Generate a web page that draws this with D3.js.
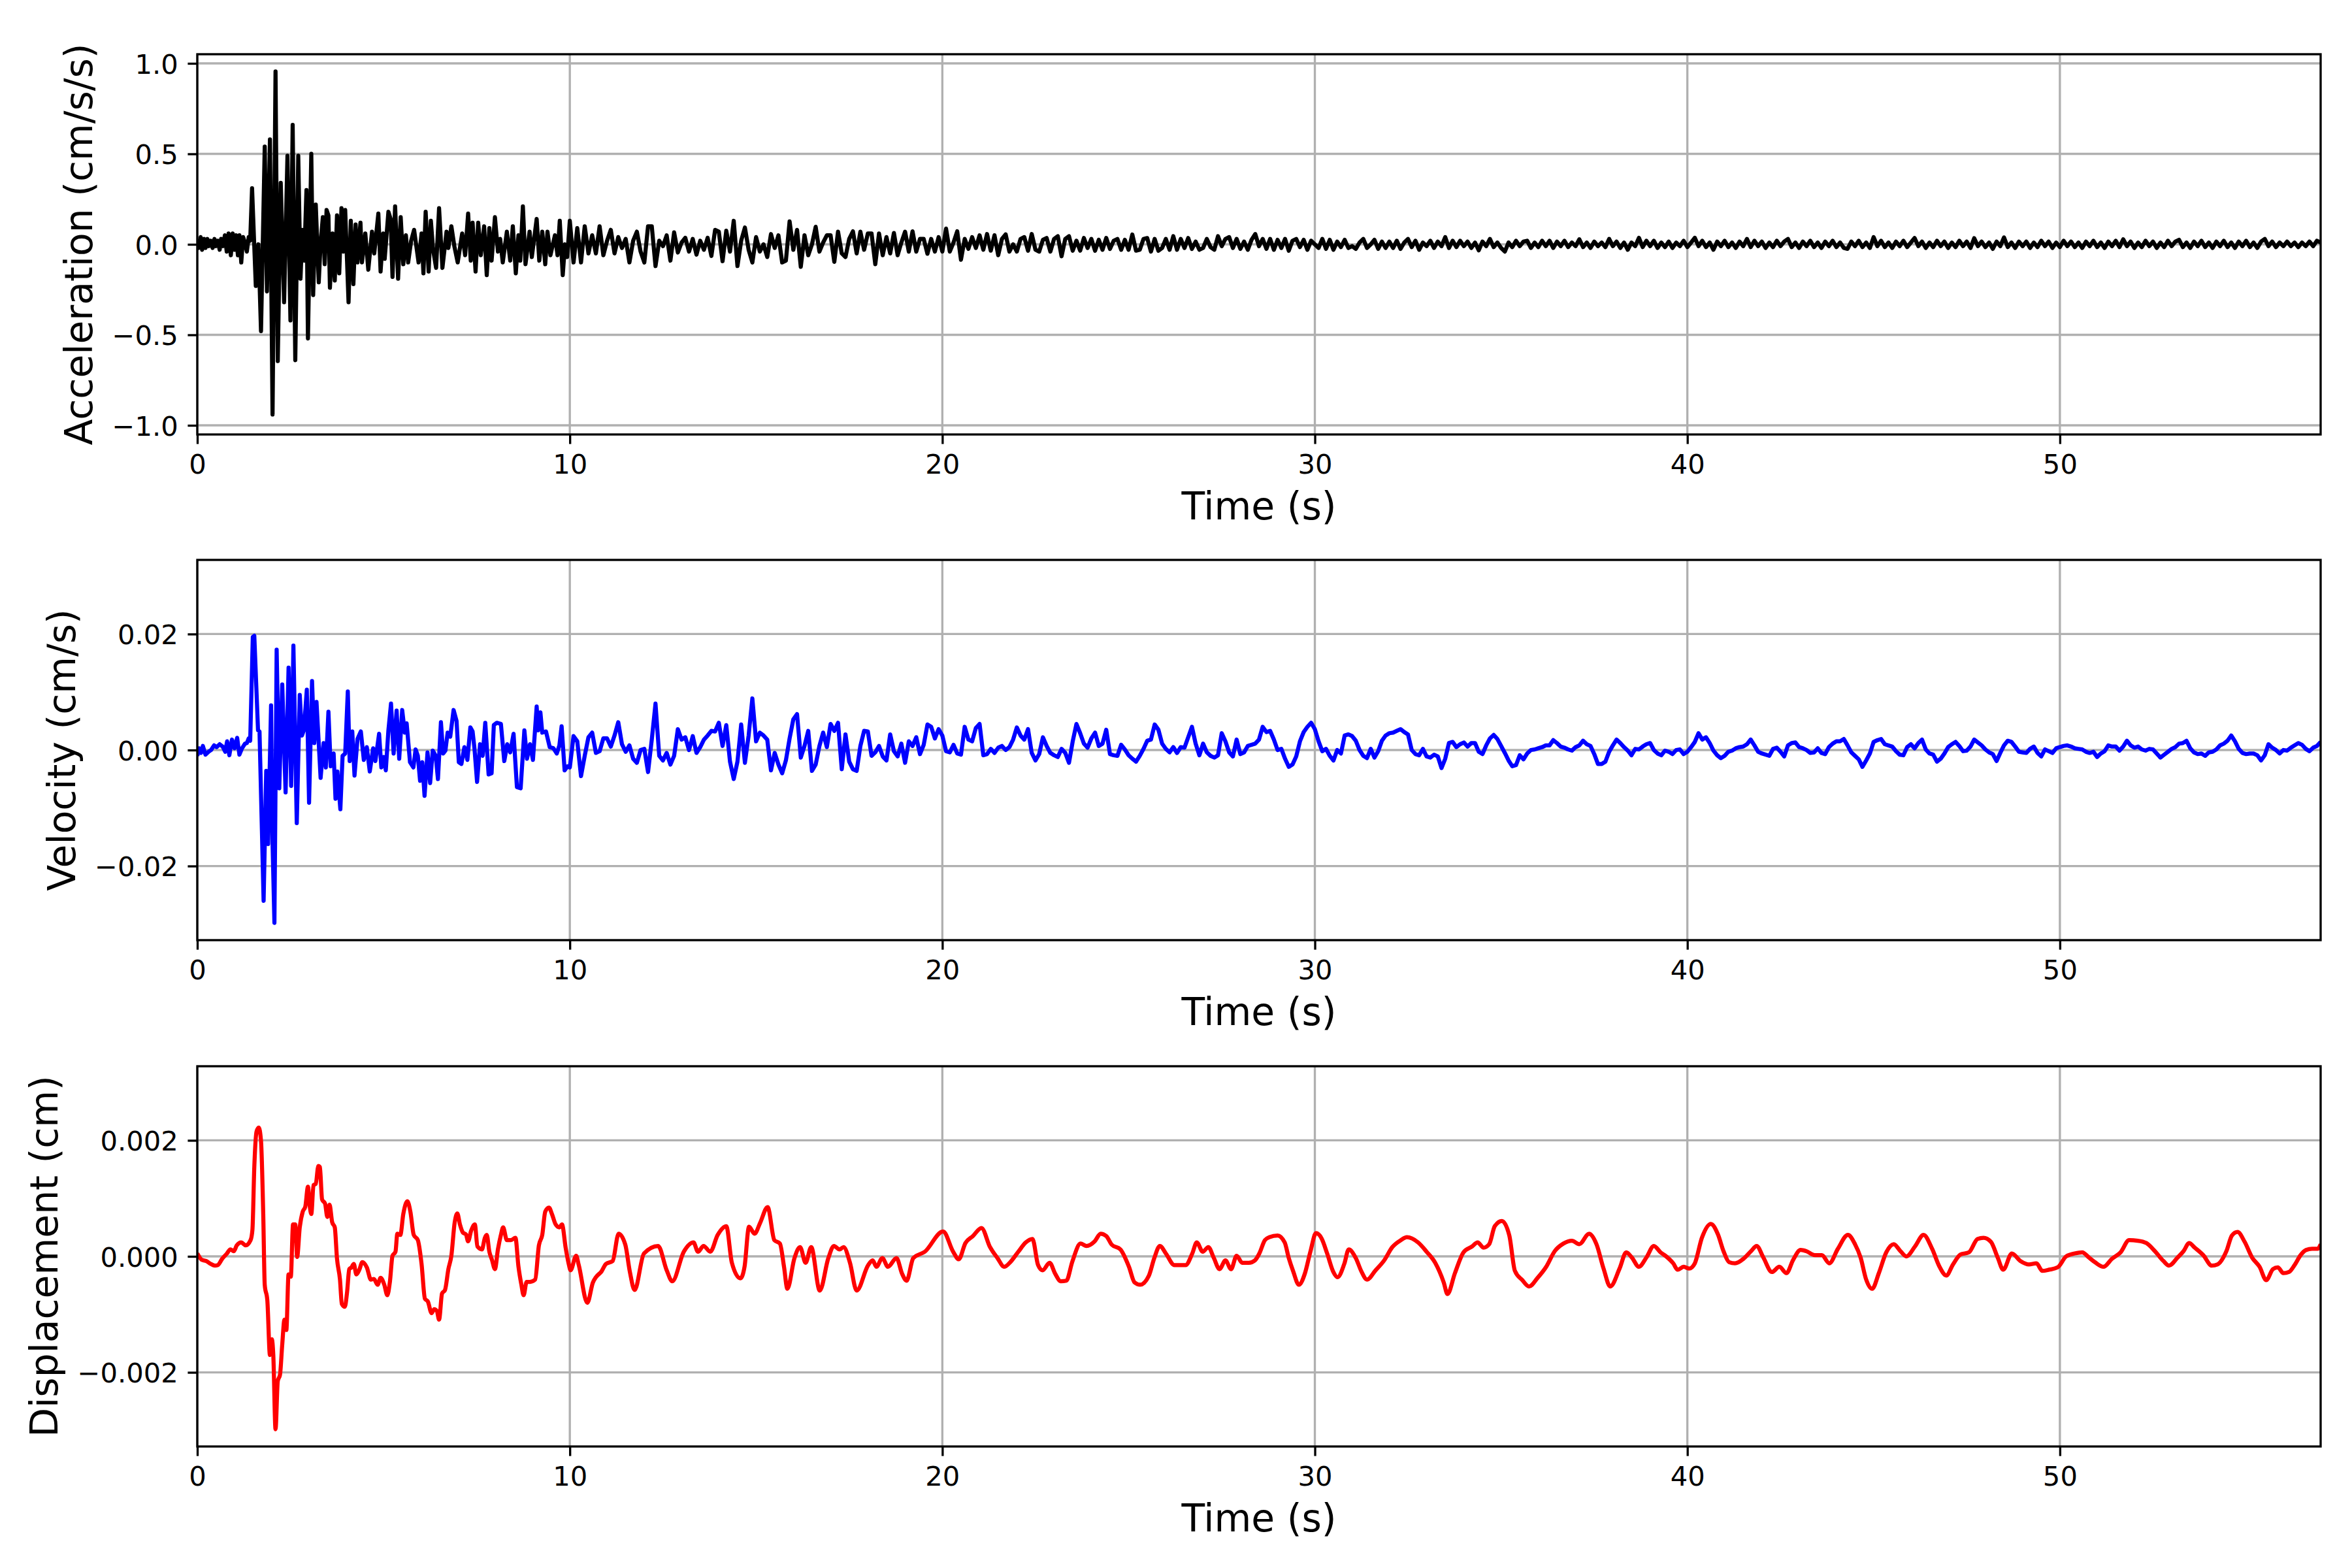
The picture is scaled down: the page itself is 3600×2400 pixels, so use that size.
<!DOCTYPE html>
<html>
<head>
<meta charset="utf-8">
<script src="https://d3js.org/d3.v7.min.js"></script>
<style>
  body { margin: 0; background: #fff; }
  text { font-family: "DejaVu Sans", sans-serif; fill: #000; }
</style>
</head>
<body>
<div id="chart"></div>
<script>
// ---- data ----

// acceleration 0-10 s, peak by peak: [time s, cm/s/s]
const accEarly = [
  [0.00,0.03],[0.04,-0.02],[0.09,0.04],[0.13,-0.03],[0.18,0.03],[0.22,-0.02],[0.27,0.03],[0.31,-0.01],[0.36,0.02],[0.41,-0.02],
  [0.46,0.03],[0.50,-0.01],[0.55,0.02],[0.60,-0.03],[0.64,0.03],[0.69,-0.01],[0.74,0.05],[0.79,-0.04],[0.84,0.06],[0.90,-0.06],
  [0.95,0.06],[1.00,-0.03],[1.04,0.05],[1.09,-0.06],[1.13,0.05],[1.18,-0.10],[1.23,0.04],[1.28,0.01],[1.33,-0.04],[1.38,0.04],
  [1.42,0.02],[1.47,0.31],[1.57,-0.23],[1.64,0.00],[1.71,-0.48],[1.81,0.54],[1.87,-0.26],[1.95,0.58],[2.02,-0.94],[2.10,0.955],
  [2.16,-0.645],[2.24,0.34],[2.33,-0.32],[2.42,0.49],[2.50,-0.42],[2.56,0.66],[2.63,-0.64],[2.71,0.49],[2.77,-0.19],[2.82,0.08],
  [2.87,-0.09],[2.93,0.30],[2.97,-0.52],[3.06,0.50],[3.11,-0.28],[3.18,0.22],[3.26,-0.21],[3.31,0.01],[3.37,0.15],[3.42,-0.11],
  [3.47,0.19],[3.52,0.16],[3.56,-0.24],[3.63,0.06],[3.69,-0.20],[3.75,0.16],[3.81,-0.16],[3.87,0.20],[3.92,-0.04],[3.97,0.19],
  [4.06,-0.32],[4.12,0.13],[4.19,-0.22],[4.25,0.11],[4.30,-0.10],[4.38,0.12],[4.42,-0.10],[4.51,0.06],[4.59,-0.14],[4.69,0.07],
  [4.75,-0.05],[4.86,0.17],[4.92,-0.15],[4.99,0.06],[5.03,-0.08],[5.13,0.18],[5.19,0.14],[5.24,-0.18],[5.31,0.21],[5.39,-0.19],
  [5.46,0.15],[5.53,-0.11],[5.60,0.05],[5.66,-0.10],[5.74,0.02],[5.82,0.08],[5.94,-0.10],[6.02,0.06],[6.07,-0.16],[6.13,0.18],
  [6.21,-0.15],[6.27,0.13],[6.33,-0.03],[6.41,-0.13],[6.49,0.20],[6.58,-0.13],[6.69,0.07],[6.74,-0.02],[6.82,0.10],[6.90,-0.01],
  [6.99,-0.10],[7.11,0.06],[7.19,-0.06],[7.27,0.17],[7.34,-0.09],[7.39,0.12],[7.47,-0.15],[7.54,0.12],[7.61,-0.06],[7.70,0.10],
  [7.77,-0.17],[7.84,0.09],[7.90,-0.09],[7.99,0.15],[8.07,-0.04],[8.13,0.03],[8.20,-0.10],[8.31,0.07],[8.40,-0.09],[8.47,0.10],
  [8.55,-0.16],[8.62,0.05],[8.67,-0.09],[8.74,0.21],[8.81,-0.11],[8.92,0.07],[8.98,-0.07],[9.11,0.14],[9.18,-0.09],[9.26,0.07],
  [9.34,-0.11],[9.40,0.07],[9.48,-0.06],[9.60,0.05],[9.67,-0.06],[9.73,0.13],[9.81,-0.17],[9.87,0.00],[9.93,-0.07]
];

// acceleration 10-57 s, one reading every 0.1 s (cm/s/s)
const accLateStart = 10, accLateStep = 0.1;
const accLate = [
  0.13,-0.10,0.09,-0.10,0.10,-0.05,0.05,-0.05,0.10,-0.06,
  0.02,0.08,-0.05,0.04,-0.02,0.03,-0.10,0.02,0.07,-0.04,
  -0.10,0.10,0.10,-0.12,0.02,-0.01,0.05,-0.09,0.066,-0.045,
  0.01,0.036,-0.04,0.03,-0.057,0.02,-0.03,0.036,-0.064,0.08,
  0.07,-0.093,0.075,-0.04,0.13,-0.12,0.02,0.093,-0.03,-0.10,
  0.04,-0.04,0.0,-0.07,0.057,-0.02,0.05,-0.10,-0.09,0.127,
  -0.03,0.08,-0.124,0.05,-0.06,0.0,0.097,-0.04,0.01,0.05,
  0.05,-0.097,0.07,-0.05,-0.07,0.03,0.072,-0.05,0.07,-0.03,
  0.06,0.06,-0.11,0.06,-0.06,0.04,-0.05,0.063,-0.06,0.01,
  0.07,-0.04,0.072,-0.04,0.03,0.03,-0.052,0.03,-0.04,0.04,
  -0.04,0.087,-0.04,0.01,0.072,-0.085,0.03,-0.025,0.04,-0.02,
  0.05,-0.03,0.057,-0.035,0.05,-0.06,0.03,0.055,-0.04,0.0,
  -0.04,0.03,0.04,-0.035,0.057,-0.03,-0.04,0.025,0.035,-0.04,
  0.03,0.045,-0.066,0.03,0.045,-0.035,0.02,-0.035,0.035,-0.02,
  0.03,-0.035,0.025,-0.03,0.035,-0.025,0.02,0.03,-0.03,0.025,
  -0.03,0.054,-0.035,-0.03,0.03,0.035,-0.04,0.03,-0.035,-0.02,
  0.03,-0.03,0.045,-0.03,0.03,-0.02,0.035,-0.025,0.015,-0.03,
  -0.02,0.03,-0.015,-0.03,0.045,-0.01,0.03,0.04,-0.02,0.03,
  -0.025,0.015,-0.03,0.025,0.057,-0.01,0.03,-0.025,0.03,-0.03,
  0.025,-0.02,0.03,-0.035,0.02,0.03,-0.015,0.025,-0.03,0.02,
  0.0,-0.02,0.03,-0.025,0.025,-0.03,0.015,-0.015,0.025,-0.02,
  -0.01,-0.025,0.01,0.03,-0.02,0.0,0.025,-0.025,0.015,-0.02,
  0.015,-0.02,0.02,-0.025,0.01,0.03,-0.015,0.02,-0.03,0.01,
  -0.01,0.02,-0.02,0.015,-0.01,0.04,-0.02,0.02,-0.015,0.02,
  -0.01,0.015,-0.02,0.01,-0.033,0.015,-0.01,0.03,-0.015,0.01,
  -0.02,-0.04,0.01,-0.015,0.02,-0.01,0.015,0.02,-0.02,0.01,
  -0.015,0.02,-0.01,0.02,-0.02,0.015,-0.01,0.02,-0.015,0.01,
  -0.01,0.028,-0.015,0.01,-0.02,0.015,-0.01,0.01,-0.015,0.03,
  -0.01,0.015,-0.02,0.01,-0.03,0.01,-0.01,0.036,-0.015,0.02,
  -0.01,0.02,-0.02,0.01,-0.015,0.015,-0.02,0.01,-0.01,0.02,
  -0.015,0.01,0.036,-0.01,0.02,-0.015,0.01,-0.03,0.015,-0.01,
  0.02,-0.015,0.01,-0.02,0.015,-0.01,0.03,-0.015,0.02,-0.01,
  0.015,-0.02,0.01,-0.015,0.02,-0.01,0.015,0.03,-0.015,0.01,
  -0.02,0.015,-0.01,0.02,-0.015,0.01,-0.02,0.015,-0.01,0.02,
  -0.015,0.01,-0.02,-0.025,0.015,-0.01,0.02,-0.015,0.01,-0.02,
  0.04,-0.01,0.02,-0.015,0.01,-0.02,0.015,-0.01,0.02,-0.015,
  0.01,0.035,-0.01,0.015,-0.02,0.01,-0.015,0.02,-0.01,0.015,
  -0.02,0.01,-0.015,0.02,-0.01,0.015,-0.02,0.034,-0.01,0.015,
  -0.015,0.01,-0.025,0.015,-0.01,0.038,-0.015,0.01,-0.02,0.015,
  -0.01,0.015,-0.02,0.01,-0.015,0.02,-0.01,0.015,-0.02,0.01,
  -0.015,0.02,-0.01,0.015,-0.015,0.01,-0.02,0.015,-0.01,0.02,
  -0.015,0.01,-0.02,0.015,-0.01,0.02,-0.015,0.028,-0.01,0.015,
  -0.02,0.01,-0.015,0.02,-0.01,0.015,-0.02,0.01,-0.015,0.02,
  -0.01,0.015,0.025,-0.015,0.01,-0.02,0.015,-0.01,0.02,-0.015,
  0.01,-0.02,0.015,-0.01,0.02,-0.015,0.01,-0.02,0.015,-0.01,
  0.02,-0.015,0.01,-0.02,0.015,0.03,-0.01,0.015,-0.015,0.01,
  -0.01,0.015,-0.01,0.01,-0.015,0.01,-0.01,0.015,-0.01,0.02,
  0.01
];

// velocity 0-10 s: [time s, velocity in 0.001 cm/s]
const velEarly = [
  [0.00,-1.0],[0.05,0.3],[0.10,-0.5],[0.15,0.7],[0.22,-0.8],[0.30,-0.3],[0.37,0.0],[0.45,0.8],[0.52,0.5],[0.60,1.0],
  [0.68,0.6],[0.75,-0.3],[0.80,1.5],[0.86,-0.9],[0.93,1.8],[1.00,0.3],[1.07,2.1],[1.13,-0.8],[1.20,0.3],[1.28,1.1],
  [1.33,1.2],[1.38,2.0],[1.42,1.6],[1.49,19.5],[1.53,19.7],[1.63,3.4],[1.67,3.2],[1.78,-26.0],[1.85,-3.6],[1.90,-16.2],
  [1.98,7.7],[2.02,-16.0],[2.07,-29.8],[2.13,17.3],[2.20,-6.6],[2.28,11.3],[2.37,-7.3],[2.45,14.2],[2.52,-6.2],[2.58,18.0],
  [2.67,-12.6],[2.75,9.5],[2.81,2.5],[2.86,3.4],[2.94,10.4],[3.00,-9.1],[3.08,11.9],[3.14,1.2],[3.20,8.3],[3.31,-4.8],
  [3.39,1.2],[3.45,-3.0],[3.52,6.6],[3.58,-2.8],[3.66,-0.6],[3.71,-8.4],[3.76,-3.7],[3.84,-10.2],[3.90,-1.0],[3.97,-0.6],
  [4.04,10.1],[4.09,-1.9],[4.16,3.2],[4.22,-4.4],[4.30,1.9],[4.39,3.2],[4.47,-1.7],[4.55,0.5],[4.63,-3.7],[4.72,0.3],
  [4.78,-1.9],[4.88,2.8],[4.94,-3.0],[5.00,-1.2],[5.06,-3.5],[5.13,3.4],[5.20,8.0],[5.27,-0.6],[5.35,6.8],[5.42,-1.5],
  [5.50,6.9],[5.57,3.0],[5.62,4.6],[5.71,-2.1],[5.80,-3.0],[5.86,0.1],[5.92,-1.0],[5.98,-5.3],[6.04,-2.1],[6.10,-7.9],
  [6.18,-0.4],[6.25,-5.7],[6.32,-0.1],[6.40,-1.0],[6.46,-5.0],[6.54,4.8],[6.60,-0.6],[6.66,-0.1],[6.72,3.0],[6.79,2.3],
  [6.88,6.9],[6.96,5.0],[7.02,-2.1],[7.09,-2.4],[7.17,0.5],[7.25,-1.7],[7.33,3.9],[7.39,3.2],[7.44,0.3],[7.51,-5.5],
  [7.59,1.0],[7.66,-1.0],[7.73,4.7],[7.82,-4.2],[7.90,-4.0],[7.96,4.3],[8.04,4.7],[8.15,4.5],[8.24,-1.9],[8.32,1.0],
  [8.40,-0.4],[8.49,2.8],[8.58,-6.4],[8.68,-6.6],[8.78,3.4],[8.85,-1.5],[8.93,1.0],[9.01,-1.7],[9.11,7.5],[9.15,3.4],
  [9.21,6.5],[9.26,3.0],[9.36,3.2],[9.46,0.5],[9.56,0.3],[9.65,-0.6],[9.72,0.8],[9.78,4.1],[9.86,-3.5],[9.94,-2.8]
];

// velocity 10-57 s, one reading every 0.1 s (0.001 cm/s)
const velLateStart = 10, velLateStep = 0.1;
const velLate = [
  -3.0,2.4,1.5,-4.5,-1.0,2.2,3.0,-0.5,-0.2,2.0,
  2.0,0.6,2.5,4.8,1.0,-0.3,0.8,-1.5,-2.2,0.0,
  0.2,-3.8,1.8,8.0,-1.0,-1.8,-0.5,-2.5,-1.0,3.6,
  1.8,2.2,0.0,2.4,-0.5,0.5,1.8,2.5,3.3,3.2,
  4.7,0.7,4.3,-2.0,-5.0,-2.0,4.4,-2.2,2.5,8.9,
  1.5,3.0,2.5,1.8,-3.5,-0.5,-2.5,-4.0,-1.8,2.0,
  5.3,6.2,-1.3,0.7,3.3,-3.6,-2.5,0.7,3.0,0.5,
  4.5,3.3,4.7,-3.3,2.7,-2.0,-3.3,-3.6,0.7,3.3,
  3.2,-1.0,-0.4,0.7,-1.1,-1.8,2.7,-0.2,-1.1,1.1,
  -2.2,1.5,0.7,2.2,-0.7,0.9,4.4,4.0,2.0,3.6,
  2.5,-0.2,-0.4,0.9,-0.6,-0.8,4.0,1.8,1.5,3.8,
  4.5,-0.9,-0.7,0.2,-0.5,0.4,0.7,0.0,0.5,1.8,
  3.9,2.5,1.8,3.6,-0.5,-1.8,-0.7,2.2,0.7,-0.5,
  -0.9,-1.2,0.2,-0.5,-2.2,1.5,4.5,2.9,1.1,0.4,
  2.0,3.0,0.7,1.1,3.5,-0.7,-0.9,-1.0,0.9,0.1,
  -0.9,-1.5,-2.0,-1.0,0.2,1.6,1.8,4.4,3.5,1.1,
  0.2,-0.4,0.5,-0.5,0.5,0.4,2.2,4.0,1.1,-0.9,
  1.1,-0.4,-1.0,-1.3,-0.9,2.9,1.5,-0.4,-1.1,1.8,
  -0.7,-0.4,0.7,0.9,1.1,1.8,4.0,3.1,3.3,1.8,
  0.0,0.2,-1.5,-2.9,-2.5,-1.1,1.5,3.1,4.0,4.7,
  3.6,1.5,-0.2,0.2,-1.0,-1.8,0.0,-0.6,2.5,2.7,
  2.4,1.6,0.0,-1.0,-1.4,0.2,-1.3,-0.2,1.6,2.5,
  2.9,3.0,3.3,3.6,3.1,2.7,0.0,-0.7,-0.9,0.2,
  -1.1,-1.3,-0.8,-1.1,-3.1,-1.5,1.2,1.4,0.5,1.0,
  1.3,0.6,1.2,1.2,-0.3,-0.7,0.8,2.0,2.6,1.9,
  0.7,-0.5,-1.8,-2.8,-2.6,-0.9,-1.6,-0.6,0.0,0.1,
  0.3,0.5,0.8,0.8,1.7,1.2,0.6,0.4,0.1,-0.1,
  0.5,0.8,1.6,1.0,0.7,-0.7,-2.4,-2.4,-2.0,-0.3,
  0.8,1.8,1.2,0.5,-0.1,-0.9,0.2,0.1,0.6,1.0,
  1.2,0.0,-0.6,-0.9,-0.1,-0.3,-0.7,0.0,0.1,-0.7,
  -0.3,0.5,1.4,2.9,1.8,2.2,1.2,-0.1,-0.9,-1.4,
  -1.0,-0.3,-0.1,0.3,0.5,0.6,1.0,1.8,0.8,-0.3,
  -0.6,-0.8,-1.0,0.2,0.4,-0.3,-1.1,0.8,1.2,1.3,
  0.5,0.3,0.0,-0.5,-0.4,0.3,-0.5,-0.7,0.5,1.1,
  1.5,1.5,1.9,0.8,-0.4,-1.0,-1.6,-2.9,-1.8,-0.6,
  1.4,1.7,1.9,1.0,0.8,0.6,-0.2,-0.8,-0.9,0.5,
  1.0,0.3,1.2,1.8,0.1,-0.6,-0.8,-2.0,-1.5,-0.6,
  0.5,1.0,1.4,0.7,-0.2,-0.1,0.6,1.8,1.3,0.8,
  0.1,-0.4,-0.7,-1.9,-0.5,0.8,1.6,1.4,0.6,-0.3,
  -0.4,-0.5,0.2,0.6,-0.5,-1.1,0.1,-0.2,-0.5,0.3,
  0.5,0.7,0.8,0.6,0.3,0.2,0.1,-0.3,-0.5,-0.3,
  -1.2,-0.6,-0.2,0.8,0.6,0.6,-0.1,0.6,1.6,0.8,
  0.4,0.6,0.1,-0.1,0.2,0.1,-0.6,-1.3,-0.8,-0.3,
  0.2,0.5,1.1,1.2,1.6,0.3,-0.4,-0.7,-0.6,-1.0,
  -0.4,-0.3,0.1,0.8,1.1,1.6,2.5,1.5,0.2,-0.5,
  -0.7,-0.6,-0.6,-0.9,-1.8,-0.9,1.0,0.4,0.0,-0.6,
  0.0,-0.1,0.4,0.8,1.2,0.9,0.2,-0.2,0.4,0.7,
  1.4
];

// displacement 0-10 s: [time s, displacement in 0.0001 cm]
const dispEarly = [
  [0.00,0.5],[0.12,-0.6],[0.24,-0.8],[0.36,-1.3],[0.47,-1.6],[0.55,-1.5],[0.67,-0.4],[0.79,0.45],[0.89,1.2],[0.98,0.9],
  [1.06,1.9],[1.18,2.4],[1.30,1.9],[1.43,2.8],[1.48,4.6],[1.53,15.4],[1.59,21.5],[1.65,22.2],[1.71,19.9],[1.77,7.3],
  [1.81,-4.9],[1.88,-7.6],[1.95,-17.0],[2.00,-14.3],[2.04,-17.0],[2.10,-29.8],[2.16,-21.5],[2.22,-20.4],[2.28,-15.2],[2.34,-10.9],
  [2.39,-12.7],[2.45,-3.1],[2.51,-3.5],[2.57,5.5],[2.63,5.5],[2.68,-0.1],[2.75,5.0],[2.83,7.7],[2.90,8.6],[2.97,12.0],
  [3.02,8.6],[3.06,7.3],[3.12,12.3],[3.18,12.5],[3.25,15.6],[3.29,15.4],[3.35,9.8],[3.43,9.1],[3.49,6.8],[3.55,8.9],
  [3.62,5.9],[3.69,5.0],[3.75,-0.4],[3.83,-4.0],[3.88,-8.2],[3.96,-8.7],[4.02,-6.2],[4.08,-2.2],[4.14,-1.9],[4.20,-1.3],
  [4.27,-3.1],[4.35,-2.3],[4.43,-1.0],[4.55,-1.9],[4.66,-4.0],[4.74,-3.9],[4.84,-4.9],[4.92,-3.7],[5.02,-4.9],[5.10,-6.7],
  [5.17,-4.4],[5.24,0.1],[5.32,0.8],[5.37,3.9],[5.45,3.7],[5.53,7.3],[5.64,9.5],[5.72,7.7],[5.81,3.7],[5.92,2.8],
  [6.02,-1.3],[6.11,-7.3],[6.19,-7.8],[6.29,-9.8],[6.36,-9.1],[6.43,-9.4],[6.49,-10.9],[6.57,-6.4],[6.65,-5.8],[6.74,-2.2],
  [6.82,0.1],[6.91,5.9],[6.98,7.4],[7.05,5.5],[7.13,4.1],[7.21,3.8],[7.27,2.6],[7.35,4.4],[7.45,5.5],[7.52,1.7],
  [7.64,1.2],[7.72,3.2],[7.77,3.7],[7.84,0.8],[7.91,-0.6],[7.99,-2.2],[8.07,1.2],[8.15,3.7],[8.21,5.0],[8.31,2.8],
  [8.42,2.8],[8.54,3.2],[8.62,-1.7],[8.70,-4.9],[8.76,-6.7],[8.84,-4.4],[8.93,-4.4],[9.07,-4.0],[9.17,1.9],[9.26,3.7],
  [9.34,7.7],[9.44,8.4],[9.52,7.3],[9.62,5.5],[9.72,5.0],[9.79,5.5],[9.89,1.4],[9.97,-1.3]
];

// displacement 10-57 s: [time s, displacement in 0.0001 cm]
const dispLate = [
  [10.02,-2.4],[10.17,0.1],[10.24,-1.5],[10.47,-8.0],[10.62,-4.5],[10.70,-3.6],[10.85,-2.6],[10.97,-1.3],[11.15,-0.8],[11.31,3.9],
  [11.49,2.0],[11.61,-2.6],[11.74,-5.8],[11.99,0.5],[12.37,1.8],[12.60,-2.4],[12.75,-4.3],[13.06,0.8],[13.32,2.4],[13.44,0.8],
  [13.59,1.8],[13.77,0.8],[13.97,3.7],[14.20,5.2],[14.35,-1.1],[14.58,-3.8],[14.69,-1.8],[14.81,5.1],[14.96,3.9],[15.11,5.8],
  [15.31,8.5],[15.49,2.8],[15.64,2.2],[15.75,-1.8],[15.84,-5.6],[16.03,-0.3],[16.18,1.6],[16.33,-1.1],[16.48,1.6],[16.71,-5.9],
  [16.94,-0.3],[17.09,1.8],[17.24,1.2],[17.35,1.6],[17.52,-1.1],[17.70,-5.9],[18.01,-1.5],[18.13,-0.7],[18.23,-1.8],[18.39,-0.3],
  [18.54,-1.8],[18.77,-0.3],[18.92,-3.0],[19.04,-4.2],[19.22,-0.3],[19.53,0.8],[20.02,4.3],[20.29,0.8],[20.44,-0.5],[20.62,2.3],
  [20.82,3.5],[21.05,4.9],[21.28,1.6],[21.48,-0.3],[21.66,-1.8],[21.81,-1.1],[22.04,0.8],[22.24,2.4],[22.42,3.0],[22.57,-1.5],
  [22.69,-2.4],[22.88,-1.1],[23.03,-3.0],[23.18,-4.3],[23.33,-4.2],[23.49,-0.9],[23.71,2.2],[23.87,1.8],[24.09,2.6],[24.25,3.9],
  [24.40,3.5],[24.55,2.0],[24.78,1.2],[25.01,-1.8],[25.16,-4.5],[25.31,-4.9],[25.54,-3.4],[25.69,-0.3],[25.84,1.8],[26.00,0.5],
  [26.23,-1.5],[26.38,-1.5],[26.53,-1.5],[26.71,0.5],[26.83,2.4],[26.99,0.8],[27.14,1.6],[27.29,-0.3],[27.44,-2.2],[27.60,-0.7],
  [27.75,-2.2],[27.90,0.1],[28.05,-1.1],[28.23,-1.1],[28.39,-0.7],[28.51,0.5],[28.66,2.8],[28.78,3.3],[29.00,3.6],[29.19,2.4],
  [29.30,-0.3],[29.42,-2.6],[29.57,-4.9],[29.73,-3.0],[29.88,0.8],[30.03,4.0],[30.18,3.1],[30.33,0.5],[30.49,-2.6],[30.61,-3.6],
  [30.79,-1.3],[30.91,1.2],[31.10,-0.3],[31.25,-2.6],[31.40,-4.0],[31.63,-2.4],[31.86,-0.7],[32.08,1.6],[32.31,2.8],[32.47,3.3],
  [32.77,2.4],[33.00,0.8],[33.23,-1.1],[33.46,-4.5],[33.56,-6.5],[33.76,-2.9],[33.99,0.7],[34.22,1.7],[34.37,2.4],[34.53,1.5],
  [34.68,2.1],[34.83,5.2],[35.02,6.1],[35.22,3.6],[35.37,-2.5],[35.57,-4.1],[35.75,-5.2],[35.98,-3.7],[36.21,-1.8],[36.44,0.9],
  [36.67,2.2],[36.90,2.7],[37.10,2.1],[37.36,3.9],[37.56,2.1],[37.75,-2.1],[37.93,-5.2],[38.18,-2.1],[38.36,0.7],[38.51,-0.2],
  [38.70,-1.8],[38.90,-0.2],[39.10,1.8],[39.28,0.7],[39.43,0.0],[39.62,-1.2],[39.74,-2.3],[39.90,-1.8],[40.05,-2.1],[40.20,-1.2],
  [40.39,3.2],[40.63,5.6],[40.82,3.8],[40.97,0.9],[41.12,-1.0],[41.28,-1.2],[41.51,-0.4],[41.71,0.9],[41.86,1.8],[42.04,-0.2],
  [42.27,-2.7],[42.47,-1.8],[42.66,-2.9],[42.84,-0.6],[43.04,1.1],[43.19,0.9],[43.42,0.2],[43.61,0.2],[43.81,-1.2],[44.04,1.3],
  [44.31,3.7],[44.50,2.1],[44.65,-0.2],[44.80,-4.0],[44.96,-5.6],[45.14,-2.9],[45.34,0.7],[45.54,2.1],[45.72,0.9],[45.88,0.0],
  [46.11,1.7],[46.34,3.7],[46.57,1.3],[46.77,-1.8],[46.95,-3.3],[47.13,-1.4],[47.33,0.3],[47.56,0.7],[47.79,3.0],[47.95,3.2],
  [48.15,2.5],[48.33,-0.2],[48.48,-2.3],[48.71,0.5],[48.94,-0.8],[49.17,-1.4],[49.37,-1.2],[49.53,-2.5],[49.71,-2.3],[49.94,-1.9],
  [50.17,0.0],[50.40,0.5],[50.60,0.7],[50.78,-0.2],[50.94,-1.0],[51.17,-1.8],[51.40,-0.4],[51.63,0.7],[51.86,2.8],[52.09,2.7],
  [52.32,2.3],[52.55,0.9],[52.78,-0.8],[52.93,-1.6],[53.16,-0.2],[53.32,0.9],[53.47,2.3],[53.62,1.5],[53.85,0.2],[54.08,-1.6],
  [54.23,-1.4],[54.47,0.9],[54.62,3.6],[54.77,4.2],[54.96,2.5],[55.16,-0.2],[55.36,-1.8],[55.54,-4.1],[55.72,-2.2],[55.85,-1.9],
  [56.00,-2.9],[56.15,-2.7],[56.31,-1.4],[56.46,0.2],[56.61,1.1],[56.77,1.3],[56.92,1.3],[57.00,2.1]
];

const xTicks = [0, 10, 20, 30, 40, 50];
const accTicks = [-1.0, -0.5, 0.0, 0.5, 1.0];
const velTicks = [-0.02, 0.00, 0.02];
const dispTicks = [-0.002, 0.000, 0.002];

// ---- layout ----
const W = 3600, H = 2400;
const margin = {left: 302, right: 48};
const panelTops = [83, 857, 1632], panelH = 582;
const tickFont = 41.7, labelFont = 58.3;
const lw = 3.33;   // spines, grid, ticks

function pairs(arr, unit) { return arr.map(d => ({t: d[0], v: d[1] * unit})); }
function regular(start, step, arr, unit) { return arr.map((v, i) => ({t: start + i * step, v: v * unit})); }

const accData = pairs(accEarly, 1).concat(regular(accLateStart, accLateStep, accLate, 1));
const velData = pairs(velEarly, 1e-3).concat(regular(velLateStart, velLateStep, velLate, 1e-3));
const dispData = pairs(dispEarly, 1e-4).concat(pairs(dispLate, 1e-4));

const panels = [
  {label: "Acceleration (cm/s/s)", color: "#000000", data: accData, ticks: accTicks, fmt: d3.format(".1f"), curve: d3.curveLinear},
  {label: "Velocity (cm/s)", color: "#0000ff", data: velData, ticks: velTicks, fmt: d3.format(".2f"), curve: d3.curveLinear},
  {label: "Displacement (cm)", color: "#ff0000", data: dispData, ticks: dispTicks, fmt: d3.format(".3f"), curve: d3.curveMonotoneX}
];

const svg = d3.select("#chart").append("svg")
  .attr("width", W).attr("height", H)
  .style("background", "#fff");

const x = d3.scaleLinear().domain([0, 57]).range([margin.left, W - margin.right]);

panels.forEach((p, i) => {
  const top = panelTops[i], bottom = top + panelH;
  const m = d3.max(p.data, d => Math.abs(d.v)) * 1.1;
  const y = d3.scaleLinear().domain([-m, m]).range([bottom, top]);
  const g = svg.append("g");

  // grid
  g.selectAll(".vg").data(xTicks).join("line")
    .attr("x1", d => x(d)).attr("x2", d => x(d))
    .attr("y1", top).attr("y2", bottom)
    .attr("stroke", "#b0b0b0").attr("stroke-width", lw);
  g.selectAll(".hg").data(p.ticks).join("line")
    .attr("x1", x(0)).attr("x2", x(57))
    .attr("y1", d => y(d)).attr("y2", d => y(d))
    .attr("stroke", "#b0b0b0").attr("stroke-width", lw);

  // clip + line
  svg.append("clipPath").attr("id", "clip" + i)
    .append("rect").attr("x", x(0)).attr("y", top)
    .attr("width", x(57) - x(0)).attr("height", panelH);

  g.append("path")
    .datum(p.data)
    .attr("clip-path", `url(#clip${i})`)
    .attr("fill", "none")
    .attr("stroke", p.color)
    .attr("stroke-width", 6.25)
    .attr("stroke-linejoin", "round")
    .attr("d", d3.line().curve(p.curve).x(d => x(d.t)).y(d => y(d.v)));

  // spines
  g.append("rect")
    .attr("x", x(0)).attr("y", top)
    .attr("width", x(57) - x(0)).attr("height", panelH)
    .attr("fill", "none").attr("stroke", "#000").attr("stroke-width", lw);

  // x axis
  const gx = g.append("g")
    .attr("transform", `translate(0,${bottom})`)
    .call(d3.axisBottom(x).tickValues(xTicks).tickFormat(d3.format("d")).tickSize(14.6).tickPadding(15.8));
  gx.select(".domain").remove();
  gx.attr("font-size", null).attr("font-family", null);
  gx.selectAll("line").attr("stroke", "#000").attr("stroke-width", lw);
  gx.selectAll("text").style("font-size", tickFont + "px");

  // y axis
  const gy = g.append("g")
    .attr("transform", `translate(${margin.left},0)`)
    .call(d3.axisLeft(y).tickValues(p.ticks).tickFormat(p.fmt).tickSize(14.6).tickPadding(14.6));
  gy.select(".domain").remove();
  gy.attr("font-size", null).attr("font-family", null);
  gy.selectAll("line").attr("stroke", "#000").attr("stroke-width", lw);
  gy.selectAll("text").style("font-size", tickFont + "px").attr("dy", "0.36em");

  // labels
  g.append("text")
    .attr("x", (x(0) + x(57)) / 2)
    .attr("y", bottom + 130)
    .attr("text-anchor", "middle")
    .style("font-size", labelFont + "px")
    .text("Time (s)");

  let minX = 0;
  gy.selectAll("text").each(function() { minX = Math.min(minX, this.getBBox().x); });
  const lx = margin.left + minX - 16.7 - 0.236 * labelFont;
  g.append("text")
    .attr("transform", `translate(${lx},${(top + bottom) / 2}) rotate(-90)`)
    .attr("text-anchor", "middle")
    .style("font-size", labelFont + "px")
    .text(p.label);
});
</script>
</body>
</html>
